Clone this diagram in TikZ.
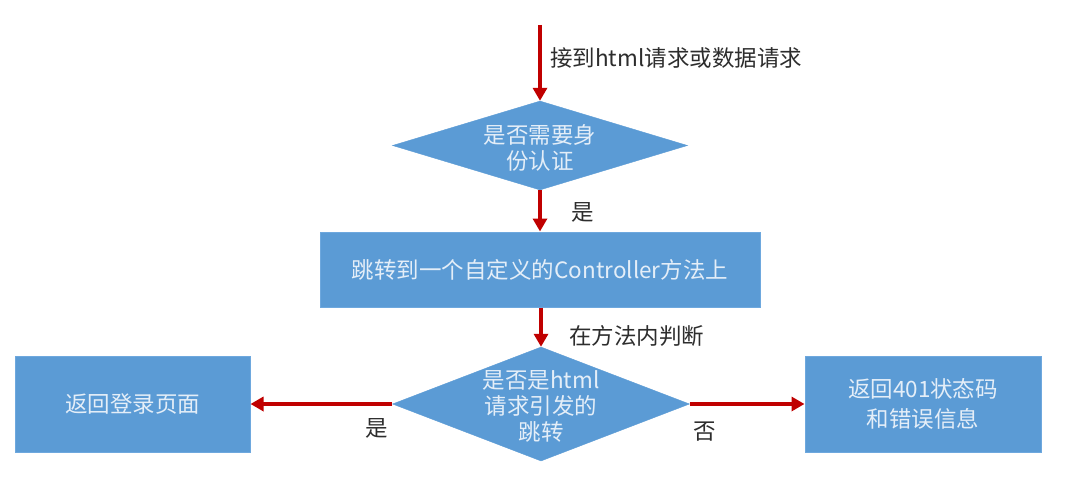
\documentclass[tikz,border=0pt]{standalone}
\usepackage{fontspec}
\setmainfont{Noto Sans CJK SC}
\usetikzlibrary{arrows.meta,shapes.geometric}
\definecolor{boxblue}{RGB}{91,155,213}
\definecolor{boxedge}{RGB}{110,168,222}
\definecolor{arrred}{RGB}{192,0,0}
\definecolor{boxtext}{RGB}{228,238,248}
\definecolor{lbl}{RGB}{45,45,45}
\begin{document}
\begin{tikzpicture}[x=1pt,y=-1pt,
  box/.style={rectangle, draw=boxedge, fill=boxblue, line width=1pt, inner sep=0pt, text=boxtext, align=center, font=\fontsize{22.5}{30}\selectfont},
  dia/.style={diamond, draw=boxblue, fill=boxblue, inner sep=0pt},
  diatext/.style={text=boxtext, align=center, font=\fontsize{22.5}{26}\selectfont, inner sep=0pt},
  lab/.style={text=lbl, font=\fontsize{22.5}{26}\selectfont, inner sep=0pt},
  arr/.style={draw=arrred, line width=4pt, -{Triangle[length=13pt,width=14pt]}}]
\useasboundingbox (0,0) rectangle (1089,484);
\fill[white] (0,0) rectangle (1089,484);

\coordinate (start) at (540,25);
\node[dia, minimum width=295pt, minimum height=89pt] (d1) at (540,145.5) {};
\node[diatext] (d1t) at (540,148) {是否需要身\\份认证};
\node[box, minimum width=440pt, minimum height=75pt] (r1) at (540,269.5) {跳转到一个自定义的Controller方法上};
\node[dia, minimum width=297pt, minimum height=114pt] (d2) at (541,404) {};
\node[diatext] (d2t) at (541,406) {是否是html\\请求引发的\\跳转};
\node[box, minimum width=235pt, minimum height=96pt] (left) at (132.5,404) {返回登录页面};
\node[box, minimum width=236pt, minimum height=96pt] (right) at (923,404) {返回401状态码\\和错误信息};

\draw[arr] (start) -- (d1.north);
\draw[arr] (d1.south) -- (r1.north);
\draw[arr] (r1.south -| d2.north) -- (d2.north);
\draw[arr] (d2.west) -- (left.east);
\draw[arr] (d2.east) -- (right.west);

\node[lab, anchor=west] (l1) at (550,58) {接到html请求或数据请求};
\node[lab] (l2) at (583,212) {是};
\node[lab, anchor=west] (l3) at (569,336) {在方法内判断};
\node[lab] (l4) at (377,428) {是};
\node[lab] (l5) at (705,432) {否};
\end{tikzpicture}
\end{document}
